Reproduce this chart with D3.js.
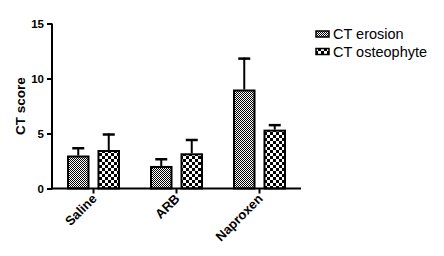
<!DOCTYPE html>
<html><head><meta charset="utf-8">
<script src="https://cdn.jsdelivr.net/npm/d3@7"></script>
<style>body{margin:0;background:#fff}svg{display:block}text{font-family:Arial,"Liberation Sans",sans-serif}</style>
</head><body>
<svg id="c" width="444" height="256"></svg>
<script>
const categories = ["Saline", "ARB", "Naproxen"];
const seriesNames = ["CT erosion", "CT osteophyte"];
const erosionMean = [3.0, 2.05, 9.0];
const erosionErr = [0.75, 0.7, 2.9];
const osteoMean = [3.5, 3.2, 5.35];
const osteoErr = [1.5, 1.3, 0.5];
const yTicks = [0, 5, 10, 15];
const yLabel = "CT score";

const svg = d3.select("#c");
const defs = svg.append("defs");
const p1 = defs.append("pattern").attr("id","pEro").attr("patternUnits","userSpaceOnUse").attr("width",2).attr("height",2);
p1.append("rect").attr("width",2).attr("height",2).attr("fill","#fff");
p1.append("rect").attr("width",1).attr("height",1).attr("fill","#000");
p1.append("rect").attr("x",1).attr("y",1).attr("width",1).attr("height",1).attr("fill","#000");
const p2 = defs.append("pattern").attr("id","pOst").attr("patternUnits","userSpaceOnUse").attr("width",6).attr("height",6);
p2.append("rect").attr("width",6).attr("height",6).attr("fill","#fff");
p2.append("rect").attr("width",3).attr("height",3).attr("fill","#000");
p2.append("rect").attr("x",3).attr("y",3).attr("width",3).attr("height",3).attr("fill","#000");

const fills = ["url(#pEro)", "url(#pOst)"];
const series = [
  {name: seriesNames[0], mean: erosionMean, err: erosionErr},
  {name: seriesNames[1], mean: osteoMean, err: osteoErr}
];

const y = d3.scaleLinear().domain([0, 15]).range([188.5, 23.5]);
const x0 = d3.scaleBand().domain(categories).range([52, 301]).padding(0);
const x1 = d3.scaleBand().domain(seriesNames).range([15, 68]).paddingInner(0.262).paddingOuter(0);

const g = svg.append("g");
categories.forEach((cat, i) => {
  series.forEach((s, j) => {
    const bx = x0(cat) + x1(s.name);
    const bw = x1.bandwidth();
    const top = y(s.mean[i]);
    const etop = y(s.mean[i] + s.err[i]);
    const cx = bx + bw / 2;
    g.append("line").attr("x1",cx).attr("x2",cx).attr("y1",top).attr("y2",etop)
      .attr("stroke","#000").attr("stroke-width",2);
    g.append("line").attr("x1",cx-6).attr("x2",cx+6).attr("y1",etop+1).attr("y2",etop+1)
      .attr("stroke","#000").attr("stroke-width",2.5);
    g.append("rect").attr("x",bx+1).attr("y",top+1).attr("width",bw-2).attr("height",y(0)-top-1)
      .attr("fill",fills[j]).attr("stroke","#000").attr("stroke-width",2);
  });
});

const yAxis = svg.append("g").attr("transform","translate(52,0)")
  .call(d3.axisLeft(y).tickValues(yTicks).tickSize(5).tickPadding(3).tickFormat(d3.format("d")));
yAxis.select(".domain").attr("stroke","#000").attr("stroke-width",2).attr("d","M0,23.5V189.5");
yAxis.selectAll(".tick line").attr("stroke","#000").attr("stroke-width",2);
yAxis.selectAll(".tick text").attr("font-size",11.5).attr("font-weight","bold").attr("fill","#000")
  .attr("font-family","Arial, 'Liberation Sans', sans-serif");

const xAxis = svg.append("g").attr("transform","translate(0,188.5)")
  .call(d3.axisBottom(x0).tickSize(5).tickFormat(""));
xAxis.select(".domain").attr("stroke","#000").attr("stroke-width",2).attr("d","M51,0H301");
xAxis.selectAll(".tick line").attr("stroke","#000").attr("stroke-width",2);
xAxis.selectAll(".tick").append("text")
  .attr("transform","translate(4,11) rotate(-45)")
  .attr("text-anchor","end").attr("font-size",13).attr("font-weight","bold").attr("fill","#000")
  .attr("font-family","Arial, 'Liberation Sans', sans-serif")
  .text(d => d);

svg.append("text").attr("transform","translate(25,106) rotate(-90)")
  .attr("text-anchor","middle").attr("font-size",13.5).attr("font-weight","bold").text(yLabel);

const leg = svg.append("g");
seriesNames.forEach((n, j) => {
  const ly = 31 + j * 17.5;
  leg.append("rect").attr("x",316).attr("y",ly).attr("width",13).attr("height",6)
    .attr("fill",fills[j]).attr("stroke","#000").attr("stroke-width",1.5);
  leg.append("text").attr("x",333).attr("y",ly+8).attr("font-size",14.5).attr("fill","#000").text(n);
});
</script>
</body></html>
